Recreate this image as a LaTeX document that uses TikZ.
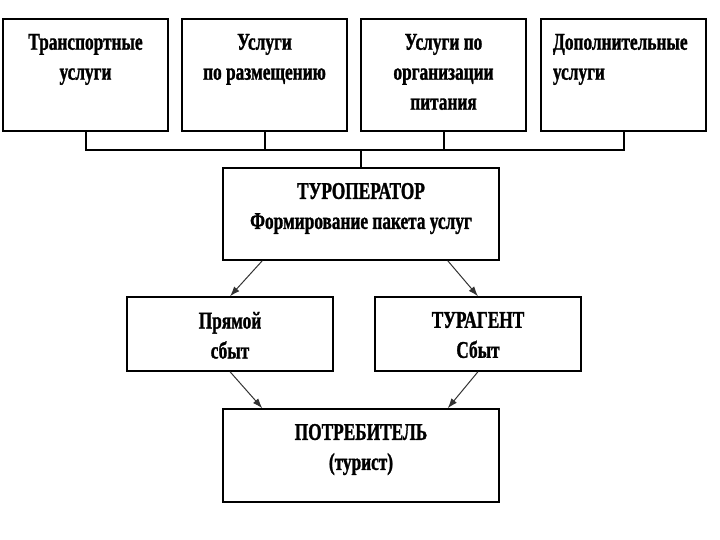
\documentclass[tikz,border=0pt]{standalone}
\usepackage{fontspec}
\setmainfont{Liberation Serif}[FakeStretch=0.72,BoldFeatures={FakeBold=1.2}]
\usepackage{tikz}
\usetikzlibrary{arrows.meta}
\usepackage{xcolor}

\tikzset{
  box/.style={draw=black, line width=1.4pt, inner sep=0pt, fill=white},
  tree/.style={draw=black, line width=2pt},
  flow/.style={draw=black!80, line width=1pt, -{Latex[length=10pt,width=7pt]}}
}
% box contents: width, height, text (top aligned)
\newcommand{\boxtxt}[3]{\parbox[c][#2][t]{#1}{\centering\bfseries\fontsize{24}{30}\selectfont\vspace*{15pt}#3\par}}
\newcommand{\boxtxtl}[3]{\parbox[c][#2][t]{#1}{\raggedright\leftskip=12pt\bfseries\fontsize{24}{30}\selectfont\vspace*{15pt}#3\par}}

\begin{document}
\begin{tikzpicture}[x=1pt,y=1pt]
        \useasboundingbox (0,0) rectangle (720,540);

        % Services
        \node[box] (trans) at (85.5,465) {\boxtxt{165pt}{112pt}{Транспортные\\услуги}};
        \node[box] (razm) at (264.5,465) {\boxtxt{165pt}{112pt}{Услуги\\по размещению}};
        \node[box] (pit) at (443.5,465) {\boxtxt{165pt}{112pt}{Услуги по\\организации\\питания}};
        \node[box] (dop) at (623.5,465) {\boxtxtl{165pt}{112pt}{Дополнительные\\услуги}};

        % Tour operator
        \node[box] (turop) at (361,326) {\boxtxt{276pt}{92pt}{ТУРОПЕРАТОР\\Формирование пакета услуг}};

        % Sales
        \node[box] (pryam) at (230,206) {\boxtxt{206pt}{74pt}{Прямой\\сбыт}};
        \node[box] (turag) at (478,206) {\boxtxt{206pt}{74pt}{ТУРАГЕНТ\\Сбыт}};

        % Consumer
        \node[box] (potr) at (361,84.5) {\boxtxt{276pt}{93pt}{ПОТРЕБИТЕЛЬ\\(турист)}};

        % Bus line under the services
        \coordinate (bus) at (0,390);
        \draw[tree] (trans.south) -- (trans.south |- bus) -- (dop.south |- bus) -- (dop.south);
        \draw[tree] (razm.south) -- (razm.south |- bus);
        \draw[tree] (pit.south) -- (pit.south |- bus);
        \draw[tree] (turop.north |- bus) -- (turop.north);

        % Arrows
        \draw[flow] ([xshift=40pt]turop.south west) -- (pryam.north);
        \draw[flow] ([xshift=-52pt]turop.south east) -- (turag.north);
        \draw[flow] (pryam.south) -- ([xshift=40pt]potr.north west);
        \draw[flow] (turag.south) -- ([xshift=-52pt]potr.north east);
    \end{tikzpicture}
\end{document}
